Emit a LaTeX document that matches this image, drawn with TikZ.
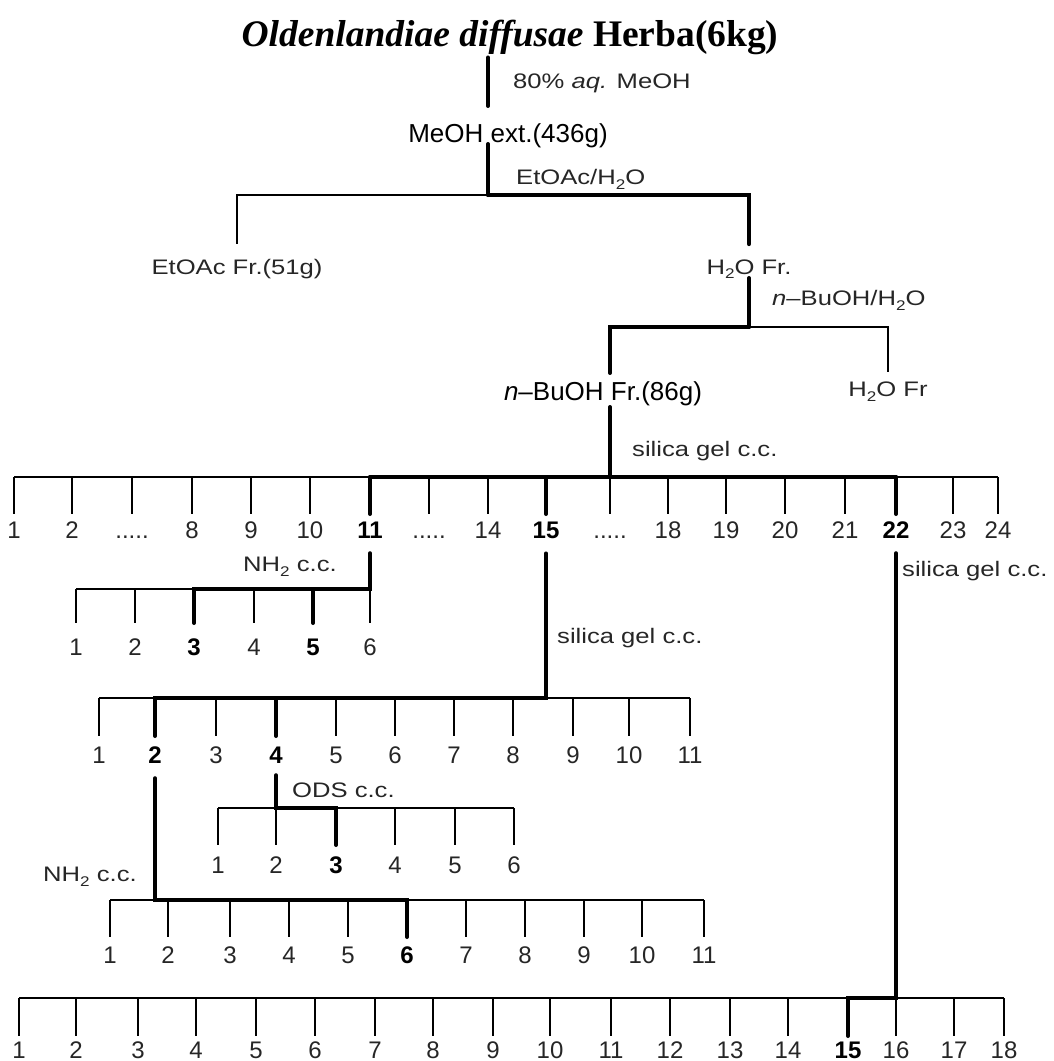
\documentclass[tikz,border=0pt]{standalone}
\usepackage{fontspec}
\setmainfont{Liberation Sans}
\newfontfamily\widesans{Liberation Sans}[FakeStretch=1.22]
\newfontfamily\headserif{Liberation Serif}
\newcommand\skipdots{.....}
\newcommand\lowtwo{\raisebox{-0.45ex}{\fontsize{14}{14}\selectfont 2}}
\begin{document}
\begin{tikzpicture}[x=1pt,y=-1pt,
  ln/.style={line width=1.2pt},
  lnb/.style={line width=4pt,line cap=round},
  lbl/.style={font=\widesans\fontsize{21}{25}\selectfont,text=black!85,inner sep=0pt,anchor=west},
  frn/.style={font=\widesans\fontsize{21}{25}\selectfont,text=black!85,inner sep=0pt,anchor=base},
  ext/.style={font=\fontsize{26}{30}\selectfont,inner sep=0pt,anchor=base},
  num/.style={font=\fontsize{24}{28}\selectfont,text=black!85,inner sep=0pt,anchor=base},
  numb/.style={num,font=\bfseries\fontsize{24}{28}\selectfont,text=black}]
\useasboundingbox (0,0) rectangle (1053,1061);
\node[font=\headserif\bfseries\fontsize{37.5}{42}\selectfont,inner sep=0pt,anchor=base] (herba) at (510,46) {\textit{Oldenlandiae diffusae} Herba(6kg)};
\node[ext] (meoh) at (508,142) {MeOH ext.(436g)}; \node[frn] (etoac) at (237,274) {EtOAc Fr.(51g)}; \node[frn] (wat) at (749,274) {H\lowtwo O Fr.};
\node[ext] (buoh) at (603,400) {\textit{n}–BuOH Fr.(86g)}; \node[frn] (watr) at (888,396) {H\lowtwo O Fr};
\node[lbl] (aqm) at (513,83) {80\% \textit{aq.} MeOH}; \node[lbl] (eah) at (516,179) {EtOAc/H\lowtwo O}; \node[lbl] (bah) at (772,300) {\textit{n}–BuOH/H\lowtwo O};
\node[lbl] (sga) at (632,451) {silica gel c.c.}; \node[lbl] (nha) at (243,567) {NH\lowtwo\ c.c.}; \node[lbl] (sgb) at (557,638) {silica gel c.c.};
\node[lbl] (sgc) at (902,571) {silica gel c.c.}; \node[lbl] (ods) at (292,790) {ODS c.c.}; \node[lbl] (nhb) at (43,877) {NH\lowtwo\ c.c.};
\coordinate (j1) at (488,195); \coordinate (j2) at (749,327); \coordinate (j3) at (610,327);
\draw[lnb,shorten <=3pt,shorten >=17pt] (herba.south -| j1) -- (meoh.north -| j1); \draw[lnb,shorten <=2pt] (meoh.base -| j1) -- (j1);
\draw[ln,shorten >=15pt] (j1) -| (etoac.north); \draw[lnb,shorten >=15pt] (j1) -| (wat.north);
\draw[lnb,shorten <=4pt] (wat.base) -- (j2); \draw[ln,shorten >=9pt] (j2) -| (watr.north); \draw[lnb,shorten >=8pt] (j2) -- (j3) -- (j3 |- buoh.north);
\foreach \x/\t/\s [count=\i] in {14/1/num,72/2/num,132/\skipdots/num,192/8/num,251/9/num,310/10/num,370/11/numb,429/\skipdots/num,488/14/num,546/15/numb,610/\skipdots/num,668/18/num,726/19/num,785/20/num,845/21/num,896/22/numb,953/23/num,998/24/num}
  {\coordinate (a\i) at (\x,477); \coordinate (ab\i) at (\x,514); \draw[ln] (a\i) -- (ab\i); \node[\s] (la\i) at (\x,538) {\t};}
\foreach \x/\t/\s [count=\i] in {76/1/num,135/2/num,194/3/numb,254/4/num,313/5/numb,370/6/num}
  {\coordinate (b\i) at (\x,589); \coordinate (bb\i) at (\x,623); \draw[ln] (b\i) -- (bb\i); \node[\s] (lb\i) at (\x,655) {\t};}
\foreach \x/\t/\s [count=\i] in {99/1/num,155/2/numb,216/3/num,276/4/numb,336/5/num,395/6/num,454/7/num,513/8/num,573/9/num,629/10/num,690/11/num}
  {\coordinate (c\i) at (\x,698); \coordinate (cb\i) at (\x,736); \draw[ln] (c\i) -- (cb\i); \node[\s] (lc\i) at (\x,763) {\t};}
\foreach \x/\t/\s [count=\i] in {218/1/num,276/2/num,336/3/numb,395/4/num,455/5/num,514/6/num}
  {\coordinate (d\i) at (\x,808); \coordinate (db\i) at (\x,845); \draw[ln] (d\i) -- (db\i); \node[\s] (ld\i) at (\x,873) {\t};}
\foreach \x/\t/\s [count=\i] in {110/1/num,168/2/num,230/3/num,289/4/num,348/5/num,407/6/numb,466/7/num,525/8/num,584/9/num,642/10/num,704/11/num}
  {\coordinate (e\i) at (\x,900); \coordinate (eb\i) at (\x,937); \draw[ln] (e\i) -- (eb\i); \node[\s] (le\i) at (\x,963) {\t};}
\foreach \x/\t/\s [count=\i] in {19/1/num,76/2/num,138/3/num,196/4/num,256/5/num,315/6/num,375/7/num,433/8/num,493/9/num,550/10/num,611/11/num,670/12/num,730/13/num,788/14/num,848/15/numb,896/16/num,954/17/num,1004/18/num}
  {\coordinate (f\i) at (\x,998); \coordinate (fb\i) at (\x,1036); \draw[ln] (f\i) -- (fb\i); \node[\s] (lf\i) at (\x,1058) {\t};}
\draw[ln] (a1) -- (a18); \draw[ln] (b1) -- (b6); \draw[ln] (c1) -- (c11); \draw[ln] (d1) -- (d6); \draw[ln] (e1) -- (e11); \draw[ln] (f1) -- (f18);
\draw[lnb,shorten <=7pt] (buoh.base -| j3) -- (a11); \draw[lnb] (a7) -- (a16); \foreach \k in {7,10,16} \draw[lnb] (a\k) -- (ab\k);
\draw[lnb,shorten <=15pt] (la7.south) -- (b6) -- (b3) -- (bb3); \draw[lnb] (b5) -- (bb5);
\draw[lnb,shorten <=15pt] (la10.south) -- (la10.south |- c1) -- (c2) -- (cb2); \draw[lnb] (c4) -- (cb4);
\draw[lnb,shorten <=12pt] (lc4.south) -- (d2) -- (d3) -- (db3);
\draw[lnb,shorten <=15pt] (lc2.south) -- (lc2.south |- e1) -- (e6) -- (eb6);
\draw[lnb,shorten <=15pt] (la16.south) -- (f16) -- (f15) -- (fb15);
\end{tikzpicture}
\end{document}
